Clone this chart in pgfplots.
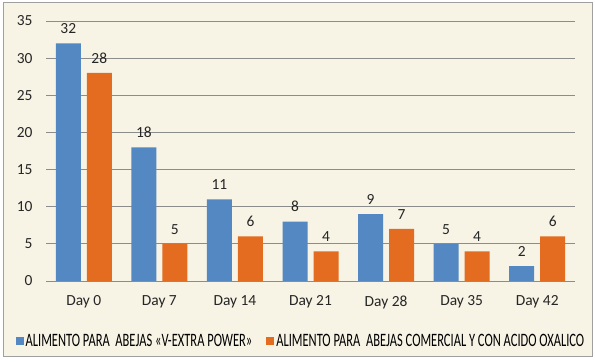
\documentclass[border=0pt]{standalone}
\usepackage{fontspec}
\setmainfont{Carlito}
\newfontfamily\condfont{Carlito}[FakeStretch=0.66]
\usepackage{pgfplots}
\pgfplotsset{compat=1.18}
\definecolor{barblue}{RGB}{84,136,194}
\definecolor{barorange}{RGB}{228,108,32}
\definecolor{bgcream}{RGB}{247,243,229}
\definecolor{gridgray}{RGB}{140,140,140}
\definecolor{framegray}{RGB}{160,160,160}
\begin{document}
\begin{tikzpicture}
\useasboundingbox (0,0) rectangle (595bp,362bp);
\fill[white] (0,0) rectangle (595bp,362bp);
\draw[framegray, fill=bgcream, line width=1bp] (3bp,5bp) rectangle (592bp,359bp);
\begin{axis}[
 at={(46bp,81bp)}, anchor=south west,
 scale only axis, width=529bp, height=260bp,
 ybar=6bp, bar width=25bp,
 xmin=-0.5, xmax=6.5, ymin=0, ymax=35,
 ytick={0,5,...,35},
 xtick=data, xticklabels={Day 0,Day 7,Day 14,Day 21,Day 28,Day 35,Day 42},
 major tick length=0pt,
 axis x line*=bottom, axis y line*=left,
 y axis line style={draw=none},
 x axis line style={gridgray, line width=1bp, -},
 ymajorgrids, grid style={gridgray, line width=0.8bp},
 /pgf/number format/assume math mode=true,
 tick label style={font=\fontsize{15.5}{17}\selectfont, text=black!85},
 yticklabel style={xshift=-10bp},
 xticklabel style={yshift=-11bp},
 nodes near coords,
 nodes near coords style={font=\fontsize{15.5}{17}\selectfont, yshift=6bp, text=black!85},
 legend columns=2,
 legend style={at={(0.482,-0.23)}, anchor=center, draw=none, fill=none,
   font=\condfont\fontsize{19}{21}\selectfont,
   /tikz/every even column/.append style={column sep=12bp}},
 legend image code/.code={\fill[#1] (0bp,-4bp) rectangle (8bp,4bp);},
]
\addplot[fill=barblue, draw=none] coordinates {(0,32)(1,18)(2,11)(3,8)(4,9)(5,5)(6,2)};
\addlegendentry{ALIMENTO PARA\ \ ABEJAS «V-EXTRA POWER»}
\addplot[fill=barorange, draw=none] coordinates {(0,28)(1,5)(2,6)(3,4)(4,7)(5,4)(6,6)};
\addlegendentry{ALIMENTO PARA\ \ ABEJAS COMERCIAL Y CON ACIDO OXALICO}
\end{axis}
\end{tikzpicture}
\end{document}
